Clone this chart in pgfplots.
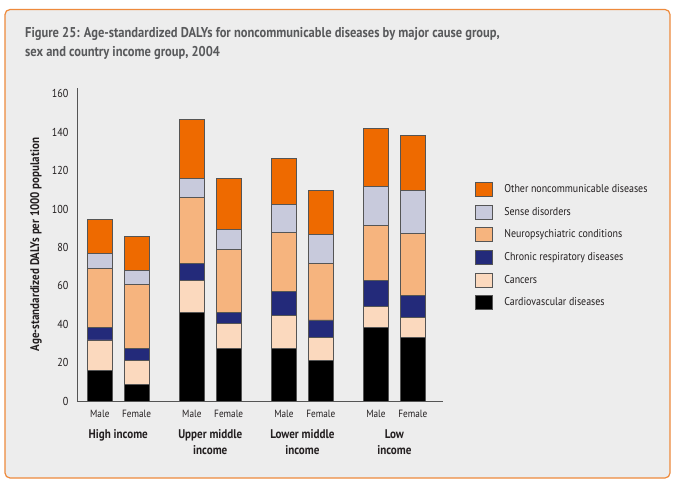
\documentclass[border=0pt]{standalone}
\usepackage{fontspec}
\setmainfont{PT Sans}[FakeStretch=0.88]
\usepackage{pgfplots}
\pgfplotsset{compat=1.18}
\usepackage{pgfplotstable}
\definecolor{cOther}{HTML}{EE6A00}
\definecolor{cSense}{HTML}{C8CADC}
\definecolor{cNeuro}{HTML}{F6B47E}
\definecolor{cResp}{HTML}{232A7A}
\definecolor{cCancer}{HTML}{FBD9BE}
\definecolor{cCardio}{HTML}{000000}
\definecolor{panel}{HTML}{EDEDED}
\definecolor{cBorder}{HTML}{EE8A3C}
\definecolor{titlegray}{HTML}{58595B}
\definecolor{barline}{HTML}{555555}
\definecolor{axisgray}{HTML}{555555}
\definecolor{txt}{HTML}{231F20}

\pgfplotstableread{
x   cardio cancer resp neuro sense other
0   16.0   15.8   6.6  30.5  8.0   17.8
1   8.7    12.5   6.4  33.2  7.3   17.7
2.5 46.2   16.7   8.9  34.3  9.9   30.8
3.5 27.5   13.0   5.7  32.8  10.5  26.5
5   27.5   17.2   12.5 30.7  14.6  23.8
6   21.2   12.0   9.0  29.6  15.1  22.9
7.5 38.4   10.9   13.6 28.7  20.3  30.2
8.5 33.2   10.4   11.5 32.3  22.4  28.7
}\datatable

\begin{document}
\begin{tikzpicture}
\fill[white] (0pt,0pt) rectangle (681pt,491pt);
\draw[rounded corners=5pt, fill=panel, draw=cBorder, line width=1.2pt] (5pt,13pt) rectangle (670pt,481.5pt);
\node[anchor=base west, inner sep=0pt, font=\bfseries\fontsize{14.2}{18}\selectfont, text=titlegray] at (25pt,453pt) {Figure 25: Age-standardized DALYs for noncommunicable diseases by major cause group,};
\node[anchor=base west, inner sep=0pt, font=\bfseries\fontsize{14.2}{18}\selectfont, text=titlegray] at (25pt,434pt) {sex and country income group, 2004};
\begin{axis}[
  at={(77pt,90pt)}, anchor=south west,
  scale only axis, width=366pt, height=313pt,
  xmin=-0.62, xmax=9.32, ymin=0, ymax=163,
  axis lines*=left,
  axis line style={draw=axisgray, line width=0.8pt, -},
  ybar stacked, bar width=25pt,
  xtick={0,1,2.5,3.5,5,6,7.5,8.5},
  xticklabels={Male,Female,Male,Female,Male,Female,Male,Female},
  ytick={0,20,...,160},
  major tick length=0pt,
  /pgf/number format/assume math mode=true,
  yticklabel style={font=\fontsize{11.5}{13}\selectfont, text=txt, xshift=-5pt},
  xticklabel style={font=\fontsize{10.5}{12}\selectfont, text=txt, yshift=-6pt},
  ylabel={Age-standardized DALYs per 1000 population},
  every axis y label/.style={at={(rel axis cs:0,0.5)}, xshift=-41pt, rotate=90, anchor=center, font=\bfseries\fontsize{12.5}{14}\selectfont, text=txt},
  clip=false,
  legend style={at={(1.087,0.70)}, anchor=north west, draw=none, fill=none, inner sep=0pt,
    font=\fontsize{11.3}{13}\selectfont, text=txt, row sep=7.8pt,
    /tikz/every odd column/.append style={column sep=10pt}},
  legend cell align=left,
  reverse legend,
  legend image code/.code={\draw[#1, draw=barline, line width=0.8pt] (0pt,-7pt) rectangle (16.5pt,7pt);},
  every axis plot/.append style={draw=barline, line width=0.8pt},
]
\addplot[fill=cCardio] table[x=x, y=cardio] {\datatable};
\addplot[fill=cCancer] table[x=x, y=cancer] {\datatable};
\addplot[fill=cResp] table[x=x, y=resp] {\datatable};
\addplot[fill=cNeuro] table[x=x, y=neuro] {\datatable};
\addplot[fill=cSense] table[x=x, y=sense] {\datatable};
\addplot[fill=cOther] table[x=x, y=other] {\datatable};
\legend{Cardiovascular diseases, Cancers, Chronic respiratory diseases, Neuropsychiatric conditions, Sense disorders, Other noncommunicable diseases}
\node[anchor=north, align=center, inner sep=0pt, font=\bfseries\fontsize{12.6}{16}\selectfont, text=txt] at (axis cs:0.5,0) [yshift=-28pt] {High income};
\node[anchor=north, align=center, inner sep=0pt, font=\bfseries\fontsize{12.6}{16}\selectfont, text=txt] at (axis cs:3,0) [yshift=-28pt] {Upper middle\\income};
\node[anchor=north, align=center, inner sep=0pt, font=\bfseries\fontsize{12.6}{16}\selectfont, text=txt] at (axis cs:5.5,0) [yshift=-28pt] {Lower middle\\income};
\node[anchor=north, align=center, inner sep=0pt, font=\bfseries\fontsize{12.6}{16}\selectfont, text=txt] at (axis cs:8,0) [yshift=-28pt] {Low\\income};
\end{axis}
\end{tikzpicture}
\end{document}
